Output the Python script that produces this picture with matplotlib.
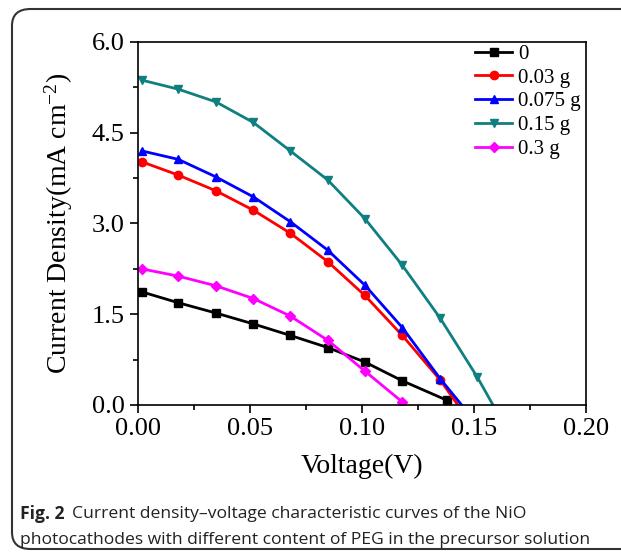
import matplotlib.pyplot as plt
from matplotlib.patches import FancyBboxPatch
from matplotlib.ticker import MultipleLocator

v = [0.0017, 0.018, 0.0348, 0.0515, 0.068, 0.0847, 0.1013, 0.118, 0.135]
v_0 = v[:8] + [0.1378]
j_0 = [1.87, 1.69, 1.52, 1.34, 1.15, 0.95, 0.71, 0.40, 0.08]
v_003 = v + [0.1428]
j_003 = [4.02, 3.80, 3.54, 3.22, 2.84, 2.37, 1.81, 1.15, 0.41, 0.0]
v_0075 = v + [0.1445]
j_0075 = [4.20, 4.06, 3.77, 3.44, 3.03, 2.56, 1.98, 1.28, 0.43, 0.0]
v_015 = v + [0.1515, 0.1585]
j_015 = [5.37, 5.22, 5.01, 4.67, 4.20, 3.72, 3.08, 2.31, 1.43, 0.46, 0.0]
v_03 = v[:8]
j_03 = [2.25, 2.13, 1.97, 1.76, 1.47, 1.07, 0.56, 0.05]

labels = ['0', '0.03 g', '0.075 g', '0.15 g', '0.3 g']
colors = ['black', 'red', 'blue', '#0f7f7f', 'magenta']
markers = ['s', 'o', '^', 'v', 'D']
series = [(v_0, j_0), (v_003, j_003), (v_0075, j_0075), (v_015, j_015), (v_03, j_03)]

plt.rcParams['mathtext.fontset'] = 'custom'
plt.rcParams['mathtext.rm'] = 'Liberation Serif'
plt.rcParams['mathtext.it'] = 'Liberation Serif:italic'
fig = plt.figure(figsize=(6.21, 5.57), dpi=100)
ax = fig.add_axes([0.2222, 0.2729, 0.7214, 0.6517])

serif = ['Liberation Serif', 'DejaVu Serif']
for (x, y), lab, c, m in zip(series, labels, colors, markers):
    # the last point sitting on J = 0 is the curve's end, not a measured marker
    marks = [i for i in range(len(x)) if y[i] > 0]
    ax.plot(x, y, '-', color=c, marker=m, ms=6 if m != 'D' else 5, lw=2,
            markevery=marks, label=lab)

ax.set_xlim(0, 0.2)
ax.set_ylim(0, 6.0)
ax.xaxis.set_major_locator(MultipleLocator(0.05))
ax.xaxis.set_minor_locator(MultipleLocator(0.025))
ax.yaxis.set_major_locator(MultipleLocator(1.5))
ax.yaxis.set_minor_locator(MultipleLocator(0.75))
ax.xaxis.set_major_formatter(plt.FuncFormatter(lambda t, p: f'{t:.2f}'))
ax.yaxis.set_major_formatter(plt.FuncFormatter(lambda t, p: f'{t:.1f}'))
ax.tick_params(which='major', direction='out', length=6, width=1.2, labelsize=19)
ax.tick_params(which='minor', direction='out', length=3.5, width=1.2)
for lab in ax.get_xticklabels() + ax.get_yticklabels():
    lab.set_family(serif)
for s in ax.spines.values():
    s.set_linewidth(1.2)

ax.set_xlabel('Voltage(V)', fontsize=20, family=serif, labelpad=10)
ax.set_ylabel(r'Current Density(mA cm$^{\mathrm{-2}}$)', fontsize=20, family=serif, labelpad=12)

leg = ax.legend(loc='upper right', frameon=False, prop={'family': serif, 'size': 15},
                handlelength=1.75, handletextpad=0.3, labelspacing=0.2,
                bbox_to_anchor=(1.03, 1.045))

# rounded figure frame
frame = FancyBboxPatch((12 / 621, 8 / 557), 700 / 621, 540 / 557,
                       boxstyle='round,pad=0,rounding_size=0.03',
                       transform=fig.transFigure, fill=False, lw=1.5,
                       edgecolor='#333333', clip_on=False)
fig.patches.append(frame)

cap_font = ['Open Sans', 'DejaVu Sans']
cap_size = 12.6
fig.text(20 / 621, 1 - 514 / 557, 'Fig. 2', fontsize=cap_size, fontweight='bold',
         family=cap_font, va='center', color='#222222')
fig.text(72 / 621, 1 - 514 / 557, 'Current density\u2013voltage characteristic curves of the NiO',
         fontsize=cap_size, family=cap_font, va='center', color='#222222')
fig.text(20 / 621, 1 - 540 / 557,
         'photocathodes with different content of PEG in the precursor solution',
         fontsize=cap_size, family=cap_font, va='center', color='#222222')

fig.savefig('out.png', dpi=100)
